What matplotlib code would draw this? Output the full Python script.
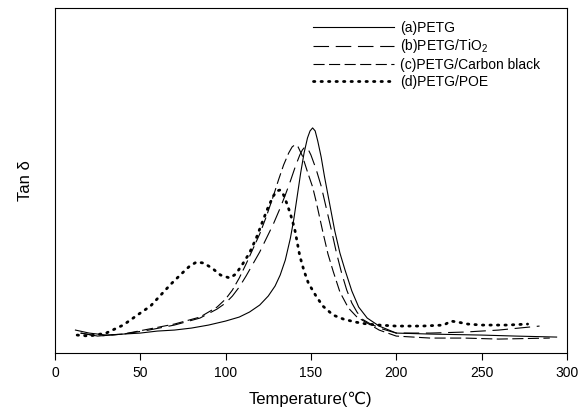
import matplotlib
matplotlib.use("Agg")
import matplotlib.pyplot as plt

plt.rcParams['font.family'] = ['Liberation Sans', 'DejaVu Sans']
plt.rcParams['mathtext.default'] = 'regular'

# (a) PETG
t_a = [12, 20, 30, 40, 50, 60, 70, 80, 90, 100, 108, 114, 120, 125, 129, 132, 135,
       138, 140, 142, 144, 146, 148, 149.5, 151, 152.5, 154, 156, 158, 160, 162, 164,
       167, 170, 174, 178, 183, 190, 200, 220, 250, 270, 294]
v_a = [.023, .020, .018, .019, .020, .022, .023, .025, .028, .032, .036, .041, .048,
       .057, .067, .078, .093, .115, .134, .157, .180, .200, .215, .222, .225, .222,
       .212, .196, .176, .158, .140, .122, .100, .083, .062, .046, .035, .027, .020,
       .019, .018, .017, .016]

# (b) PETG/TiO2
t_b = [15, 25, 40, 55, 70, 85, 95, 100, 104, 108, 112, 116, 120, 124, 128, 132, 135,
       138, 141, 143.5, 145, 146.5, 148, 150, 153, 156, 159, 162, 165, 168, 171, 174,
       177, 180, 185, 192, 200, 220, 240, 260, 284]
v_b = [.020, .017, .019, .023, .028, .035, .044, .050, .057, .066, .077, .089, .101,
       .115, .129, .145, .158, .172, .187, .198, .203, .206, .205, .198, .184, .167,
       .145, .123, .100, .080, .063, .050, .041, .034, .029, .024, .020, .020, .021,
       .023, .027]

# (c) PETG/Carbon black
t_c = [15, 25, 40, 55, 70, 85, 95, 100, 104, 108, 112, 116, 120, 124, 128, 131, 134,
       137, 139, 140.5, 142.5, 145, 148, 151, 153, 157, 160, 163, 167, 172, 177, 183,
       190, 200, 220, 240, 260, 290]
v_c = [.020, .017, .019, .024, .029, .036, .046, .054, .063, .075, .089, .104, .119,
       .137, .157, .173, .188, .200, .206, .208, .206, .197, .181, .166, .152, .121,
       .099, .082, .061, .045, .036, .030, .023, .017, .015, .015, .014, .015]

# (d) PETG/POE
t_d = [13, 20, 30, 40, 50, 56, 62, 68, 74, 79, 83, 87, 92, 97, 102.5, 106, 110, 114,
       118, 122, 125, 128, 130, 132, 134, 136, 138, 140.5, 143.5, 146, 148.5, 153, 157,
       163, 169, 176, 183, 190, 200, 215, 228, 232, 236, 242, 250, 265, 277]
v_d = [.018, .017, .020, .028, .040, .047, .058, .069, .079, .087, .091, .090, .085,
       .078, .075, .079, .089, .100, .115, .133, .146, .157, .162, .163, .158, .149,
       .139, .124, .097, .082, .070, .057, .047, .038, .034, .031, .029, .028, .027,
       .027, .028, .032, .031, .029, .028, .028, .029]

labels = ["(a)PETG", "(b)PETG/TiO$_2$", "(c)PETG/Carbon black", "(d)PETG/POE"]
xticks = [0, 50, 100, 150, 200, 250, 300]

fig = plt.figure(figsize=(5.88, 4.12), dpi=100)
ax = fig.add_axes([0.0935, 0.143, 0.8705, 0.838])

ax.plot(t_a, v_a, color="black", lw=0.8, label=labels[0])
ax.plot(t_b, v_b, color="black", lw=0.8, linestyle=(0, (14, 6)), label=labels[1])
ax.plot(t_c, v_c, color="black", lw=0.8, linestyle=(0, (10, 4)), label=labels[2])
ax.plot(t_d, v_d, color="black", lw=2.0, linestyle=(0, (0.5, 2.2)),
        dash_capstyle="round", label=labels[3])

ax.set_xlim(0, 300)
ax.set_ylim(0, 0.345)
ax.set_xticks(xticks)
ax.set_yticks([])
ax.tick_params(axis="x", direction="out", length=5, labelsize=10, pad=4)
for s in ax.spines.values():
    s.set_linewidth(0.8)

ax.set_xlabel("Temperature(\u2103)", fontsize=12, labelpad=9)
ax.set_ylabel("Tan \u03b4", fontsize=12, labelpad=16)

ax.legend(loc="upper left", bbox_to_anchor=(0.504, 0.963), frameon=False,
          fontsize=10, handlelength=5.8, handletextpad=0.5, borderpad=0,
          borderaxespad=0, labelspacing=0.2)

fig.savefig("out.png", dpi=100)
